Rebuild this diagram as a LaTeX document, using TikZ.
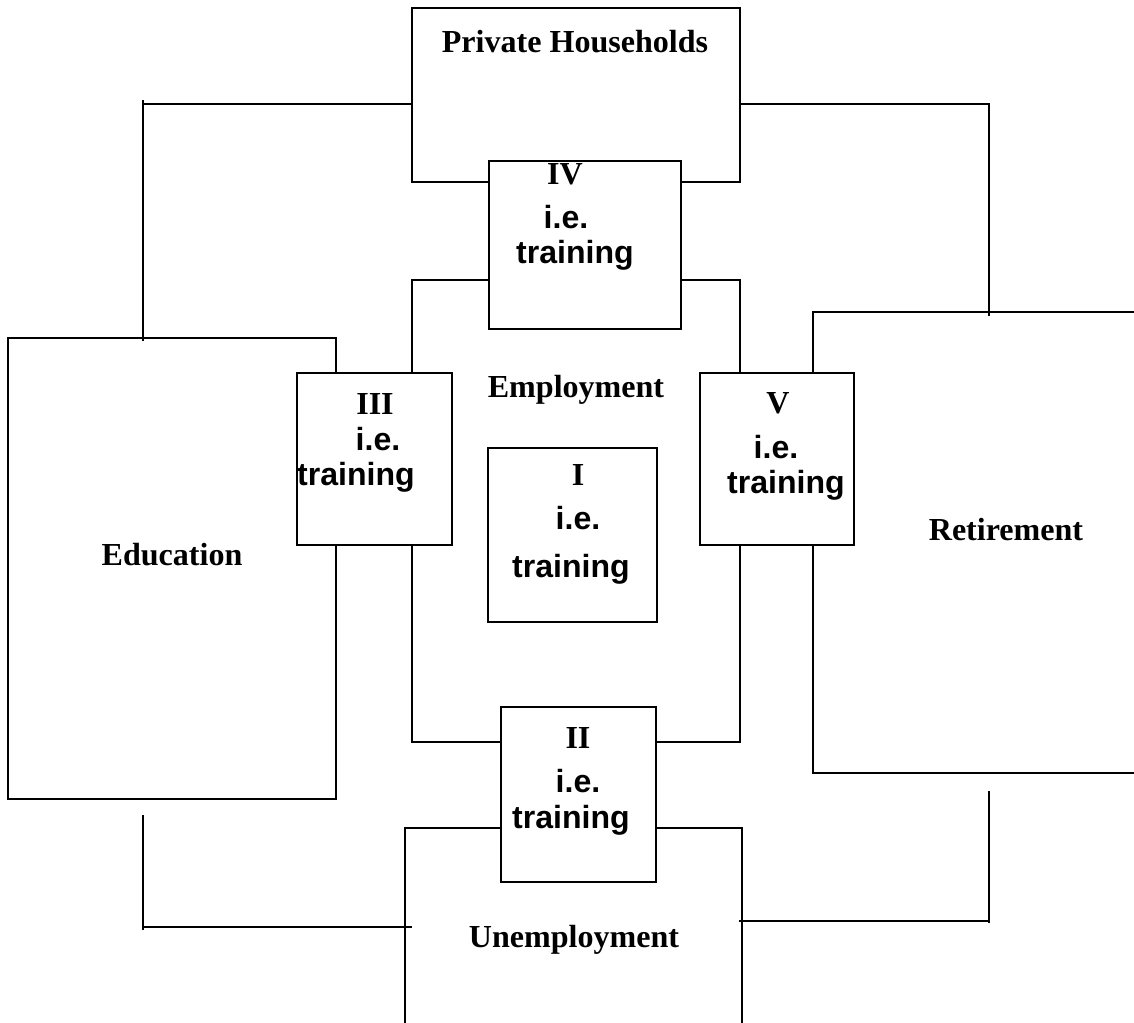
\documentclass[tikz,border=0pt]{standalone}
\usepackage{fontspec}
\setmainfont{Liberation Serif}
\newfontfamily\arialfont{Liberation Sans}
\usetikzlibrary{calc}

\begin{document}
\begin{tikzpicture}[x=0.025cm,y=-0.025cm,line width=1.3pt,
    box/.style={draw,rectangle,inner sep=0pt},
    tbox/.style={box,fill=white},
    rmlbl/.style={anchor=base,inner sep=0pt,font=\bfseries\fontsize{22.8}{27}\selectfont},
    sflbl/.style={anchor=base,inner sep=0pt,font=\arialfont\bfseries\fontsize{22.8}{27}\selectfont}]
          \useasboundingbox (0,0) rectangle (1134,1022);
          \clip (0,0) rectangle (1134,1022);

          % Private Households
          \node (ph) at (576,95) [box,minimum width=8.2cm,minimum height=4.35cm] {};
          \node (phl) at (575,52) [rmlbl] {Private Households};

          % Employment
          \node (emp) at (576,511) [box,minimum width=8.2cm,minimum height=11.55cm] {};
          \node (empl) at (576,397) [rmlbl] {Employment};

          % Education
          \node (edu) at (172,568.5) [box,minimum width=8.2cm,minimum height=11.525cm] {};
          \node (edul) at (172,565) [rmlbl] {Education};

          % Retirement
          \node (ret) at (979,542.5) [box,minimum width=8.3cm,minimum height=11.525cm] {};
          \node (retl) at (1006,540) [rmlbl] {Retirement};

          % Unemployment
          \node (unemp) at (573.5,931.5) [box,minimum width=8.425cm,minimum height=5.175cm] {};
          \node (unempl) at (574,947) [rmlbl] {Unemployment};

          % IV
          \node (iv) at (585,245) [tbox,minimum width=4.8cm,minimum height=4.2cm] {};
          \node (ivn) at (565,184) [rmlbl] {IV};
          \node (ivie) at (566,228) [sflbl] {i.e.};
          \node (ivtr) at (575,263) [sflbl] {training};

          % III
          \node (iii) at (374.5,459) [tbox,minimum width=3.875cm,minimum height=4.3cm] {};
          \node (iiin) at (375,414) [rmlbl] {III};
          \node (iiiie) at (378,450) [sflbl] {i.e.};
          \node (iiitr) at (356,485) [sflbl] {training};

          % V
          \node (v) at (777,459) [tbox,minimum width=3.85cm,minimum height=4.3cm] {};
          \node (vn) at (778,413) [rmlbl] {V};
          \node (vie) at (776,458) [sflbl] {i.e.};
          \node (vtr) at (786,493) [sflbl] {training};

          % I
          \node (i) at (572.5,535) [tbox,minimum width=4.225cm,minimum height=4.35cm] {};
          \node (in) at (578,485) [rmlbl] {I};
          \node (iie) at (578,529) [sflbl] {i.e.};
          \node (itr) at (571,577) [sflbl] {training};

          % II
          \node (ii) at (578.5,794.5) [tbox,minimum width=3.875cm,minimum height=4.375cm] {};
          \node (iin) at (578,748) [rmlbl] {II};
          \node (iiie) at (578,792) [sflbl] {i.e.};
          \node (iitr) at (571,828) [sflbl] {training};

          % connectors
          \coordinate (tlc) at (143,104);
          \draw (ph.west |- tlc) -- (tlc);
          \draw ([yshift=0.1cm]tlc) -- ([yshift=-0.1cm]tlc |- edu.north);

          \coordinate (trc) at (989,104);
          \draw (ph.east |- trc) -- (trc) -- ([yshift=-0.125cm]trc |- ret.north);

          \coordinate (blt) at (143,815);
          \coordinate (blc) at (143,927);
          \draw (blt) -- ([yshift=-0.075cm]blc);
          \draw (blc) -- ([xshift=0.2cm]blc -| unemp.west);

          \coordinate (brt) at (989,791);
          \coordinate (brc) at (989,921);
          \draw ([xshift=-0.1cm]brc -| unemp.east) -- (brc);
          \draw (brt) -- ([yshift=-0.05cm]brc);

        \end{tikzpicture}
\end{document}
